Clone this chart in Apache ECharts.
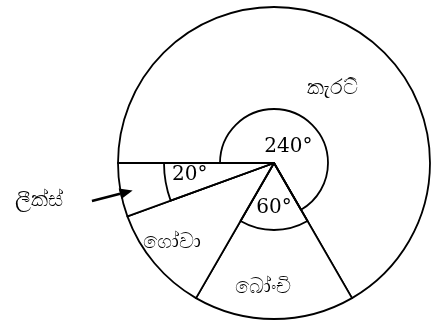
<!DOCTYPE html>
<html>
<head>
<meta charset="utf-8">
<script src="https://cdn.jsdelivr.net/npm/echarts@6/dist/echarts.min.js"></script>
<style>
  html, body { margin: 0; padding: 0; background: #fff; }
  #chart { width: 443px; height: 324px; }
</style>
</head>
<body>
<div id="chart"></div>
<script>
    // vegetables and their angles (degrees)
    const categories = ['කැරට්', 'බෝංචි', 'ගෝවා', 'ලීක්ස්'];
    const angles = [240, 60, 40, 20];
    const angleLabels = ['240°', '60°', '', '20°'];

    // layout
    const cx = 274, cy = 163, R = 156;
    const arcRadius = [54, 67, 0, 110];
    // where the texts sit: [angle in degrees, distance from centre]
    const namePos = [[52, 95], [265, 124], [218, 129], [189, 238]];
    const degPos = [[49, 22], [270, 45], null, [188, 85]];
    const arrowFrom = [191.8, 186], arrowTo = [191, 144];

    const polar = (a, d) => {
        const r = a * Math.PI / 180;
        return [cx + d * Math.cos(r), cy - d * Math.sin(r)];
    };

    const pieData = categories.map((c, i) => ({ name: c, value: angles[i] }));

    const baseSeries = {
        type: 'pie',
        center: [cx, cy],
        startAngle: 180,
        clockwise: true,
        silent: true,
        label: { show: false },
        labelLine: { show: false },
        emphasis: { disabled: true }
    };

    const series = [
        Object.assign({}, baseSeries, {
            radius: R,
            data: pieData,
            itemStyle: { color: '#ffffff', borderColor: '#000', borderWidth: 1.8 }
        })
    ];

    // the small angle arcs, one pie per marked angle
    arcRadius.forEach((r, k) => {
        if (!r) return;
        series.push(Object.assign({}, baseSeries, {
            radius: r,
            z: 3,
            data: pieData.map((d, i) => ({
                name: d.name,
                value: d.value,
                itemStyle: i === k
                    ? { color: 'transparent', borderColor: '#000', borderWidth: 1.8 }
                    : { color: 'transparent', borderWidth: 0 }
            }))
        }));
    });

    const graphics = [];
    categories.forEach((c, i) => {
        const p = polar(namePos[i][0], namePos[i][1]);
        graphics.push({
            type: 'text', x: p[0], y: p[1], z: 10,
            style: { text: c, font: '21px "Noto Sans", sans-serif', fill: '#000', align: 'center', verticalAlign: 'middle' }
        });
        if (degPos[i]) {
            const q = polar(degPos[i][0], degPos[i][1]);
            graphics.push({
                type: 'text', x: q[0], y: q[1], z: 10,
                style: { text: angleLabels[i], font: '20px "DejaVu Serif", serif', fill: '#000', align: 'center', verticalAlign: 'middle' }
            });
        }
    });

    // arrow pointing into the leeks slice
    const a0 = polar(arrowFrom[0], arrowFrom[1]);
    const a1 = polar(arrowTo[0], arrowTo[1]);
    const ang = Math.atan2(a1[1] - a0[1], a1[0] - a0[0]);
    const hl = 13, hw = 5.5;
    const base = [a1[0] - hl * Math.cos(ang), a1[1] - hl * Math.sin(ang)];
    graphics.push({
        type: 'line', z: 10,
        shape: { x1: a0[0], y1: a0[1], x2: base[0], y2: base[1] },
        style: { stroke: '#000', lineWidth: 2.5 }
    });
    graphics.push({
        type: 'polygon', z: 10,
        shape: { points: [
            a1,
            [base[0] + hw * Math.sin(ang), base[1] - hw * Math.cos(ang)],
            [base[0] - hw * Math.sin(ang), base[1] + hw * Math.cos(ang)]
        ] },
        style: { fill: '#000' }
    });

    const myChart = echarts.init(document.getElementById('chart'));
    myChart.setOption({
        animation: false,
        backgroundColor: '#ffffff',
        series: series,
        graphic: graphics
    });
</script>
</body>
</html>
